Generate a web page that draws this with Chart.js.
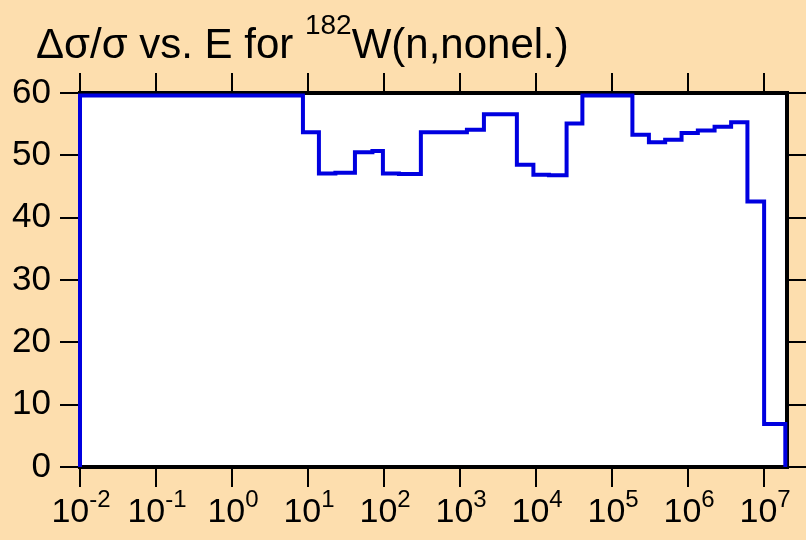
<!DOCTYPE html>
<html>
<head>
<meta charset="utf-8">
<script src="https://cdn.jsdelivr.net/npm/chart.js@4.4.0/dist/chart.umd.min.js"></script>
<style>
  html, body { margin: 0; padding: 0; background: #fddeae; }
  canvas { display: block; }
</style>
</head>
<body>
<canvas id="chart" width="806" height="540"></canvas>
<script>
// group boundaries in eV (lower edges, the last entry closes the final group)
const energyEdges = [1e-2, 8.57, 13.9, 22.9, 41.4, 70.3, 96.6, 157, 305, 1230, 2060, 5590, 9220,
  14750, 25200, 40650, 1.85e5, 3.05e5, 4.99e5, 8.2e5, 1.343e6, 2.23e6, 3.68e6, 6.03e6, 1.0e7, 1.9e7];
// relative uncertainty (%) of each group
const relUncert = [59.6, 53.7, 47.1, 47.2, 50.5, 50.7, 47.1, 47.0, 53.7, 54.1, 56.6, 48.5, 46.9,
  46.8, 55.1, 59.6, 53.3, 52.1, 52.5, 53.6, 54.0, 54.6, 55.3, 42.6, 6.9];

const xTicks = [1e-2, 1e-1, 1, 10, 100, 1e3, 1e4, 1e5, 1e6, 1e7];
const xTickExps = ['-2', '-1', '0', '1', '2', '3', '4', '5', '6', '7'];
const yTicks = [0, 10, 20, 30, 40, 50, 60];

const FONT = "'Liberation Sans', Arial, sans-serif";

// histogram outline: start from 0, one point per group, close back to 0
const points = [{ x: energyEdges[0], y: 0 }];
relUncert.forEach((v, i) => points.push({ x: energyEdges[i], y: v }));
const lastEdge = energyEdges[energyEdges.length - 1];
points.push({ x: lastEdge, y: relUncert[relUncert.length - 1] });
points.push({ x: lastEdge, y: 0 });

// text runs with superscripts: parts = [[text, size, rise], ...]
function drawRuns(ctx, parts, x, y, align) {
  let total = 0;
  parts.forEach(([t, s]) => {
    ctx.font = `${s}px ${FONT}`;
    total += ctx.measureText(t).width;
  });
  let cx = align === 'center' ? x - total / 2 : x;
  ctx.textAlign = 'left';
  ctx.textBaseline = 'alphabetic';
  parts.forEach(([t, s, rise]) => {
    ctx.font = `${s}px ${FONT}`;
    ctx.fillText(t, cx, y - rise);
    cx += ctx.measureText(t).width;
  });
}

const setTicks = values => scale => { scale.ticks = values.map(v => ({ value: v })); };

const tickGrid = {
  drawOnChartArea: false,
  drawTicks: true,
  tickLength: 20,
  color: '#000',
  lineWidth: 2
};

const framePlugin = {
  id: 'frame',
  beforeDatasetsDraw(chart) {
    const { ctx, chartArea: a } = chart;
    ctx.save();
    ctx.fillStyle = '#fff';
    ctx.fillRect(a.left, a.top, a.right - a.left, a.bottom - a.top);
    ctx.strokeStyle = '#000';
    ctx.lineWidth = 4;
    ctx.strokeRect(a.left, a.top, a.right - a.left, a.bottom - a.top);
    ctx.restore();
  },
  afterDraw(chart) {
    const { ctx } = chart;
    const xs = chart.scales.x;
    ctx.save();
    ctx.fillStyle = '#000';
    xs.ticks.forEach((t, i) => {
      const px = xs.getPixelForValue(t.value);
      drawRuns(ctx, [['10', 34, 0], [xTickExps[i], 24, 15]], px + 1, 522, 'center');
    });
    drawRuns(ctx, [['Δσ/σ vs. E for ', 42, 0], ['182', 28, 24], ['W(n,nonel.)', 42, 0]], 36, 58, 'left');
    ctx.restore();
  }
};

new Chart(document.getElementById('chart'), {
  type: 'line',
  data: {
    datasets: [{
      data: points,
      stepped: 'before',
      borderColor: '#0000e0',
      borderWidth: 4,
      pointRadius: 0,
      fill: false,
      clip: false
    }]
  },
  options: {
    responsive: false,
    animation: false,
    events: [],
    layout: { padding: 0 },
    plugins: { legend: { display: false }, tooltip: { enabled: false } },
    scales: {
      x: {
        type: 'logarithmic',
        position: 'bottom',
        min: 1e-2,
        max: 2e7,
        afterBuildTicks: setTicks(xTicks),
        ticks: { display: false },
        grid: tickGrid,
        border: { display: false },
        afterFit: s => { s.height = 73; }
      },
      x2: {
        type: 'logarithmic',
        position: 'top',
        min: 1e-2,
        max: 2e7,
        afterBuildTicks: setTicks(xTicks),
        ticks: { display: false },
        grid: tickGrid,
        border: { display: false },
        afterFit: s => { s.height = 93; }
      },
      y: {
        position: 'left',
        min: 0,
        max: 60,
        afterBuildTicks: setTicks(yTicks),
        ticks: { color: '#000', padding: 9, font: { family: FONT, size: 35 } },
        grid: tickGrid,
        border: { display: false },
        afterFit: s => { s.width = 80; }
      },
      y2: {
        position: 'right',
        min: 0,
        max: 60,
        afterBuildTicks: setTicks(yTicks),
        ticks: { display: false },
        grid: tickGrid,
        border: { display: false },
        afterFit: s => { s.width = 19; }
      }
    }
  },
  plugins: [framePlugin]
});
</script>
</body>
</html>
